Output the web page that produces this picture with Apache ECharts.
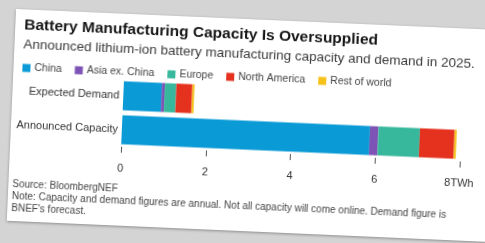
<!DOCTYPE html>
<html>
<head>
<meta charset="utf-8">
<script src="https://cdn.jsdelivr.net/npm/echarts@6/dist/echarts.min.js"></script>
<style>
  html, body { margin: 0; padding: 0; width: 485px; height: 243px; overflow: hidden; background: #d4d4d4; }
  #chart {
    position: absolute; left: 16px; top: 9px; width: 490px; height: 212px;
    background: #fff; transform: rotate(2.5deg); transform-origin: 0 0;
    box-shadow: 0 1px 3px rgba(0,0,0,0.35);
  }
</style>
</head>
<body>
<div id="chart"></div>
<script>
// values in TWh
var categories = ['Announced Capacity', 'Expected Demand']
var regions = ['China', 'Asia ex. China', 'Europe', 'North America', 'Rest of world']
var china = [5.85, 0.9]
var asiaExChina = [0.2, 0.07]
var europe = [0.98, 0.27]
var northAmerica = [0.82, 0.38]
var restOfWorld = [0.05, 0.05]
var xTicks = [0, 2, 4, 6, 8]

var colors = ['#0a9ad6', '#7d54b5', '#37b89c', '#e5321f', '#f6c21a']
var seriesData = [china, asiaExChina, europe, northAmerica, restOfWorld]

var myChart = echarts.init(document.getElementById('chart'))
myChart.setOption({
  animation: false,
  title: {
    left: 4,
    top: 3,
    text: 'Battery Manufacturing Capacity Is Oversupplied',
    subtext: 'Announced lithium-ion battery manufacturing capacity and demand in 2025.',
    itemGap: 4,
    textStyle: { fontSize: 15.5, fontWeight: 'bold', color: '#161616', fontFamily: 'Liberation Sans' },
    subtextStyle: { fontSize: 13.5, color: '#3a3a3a', fontFamily: 'Liberation Sans' }
  },
  legend: {
    left: 4,
    top: 48,
    itemWidth: 8,
    itemHeight: 8,
    itemGap: 13,
    icon: 'rect',
    selectedMode: false,
    data: regions,
    textStyle: { fontSize: 10.5, color: '#444', fontFamily: 'Liberation Sans', padding: [0, 0, 0, -1] }
  },
  grid: { left: 111, width: 339, top: 65, height: 68 },
  xAxis: {
    type: 'value',
    min: xTicks[0],
    max: xTicks[xTicks.length - 1],
    interval: 2,
    splitLine: { show: false },
    axisLine: { show: false },
    axisTick: { show: true, length: 6, lineStyle: { color: '#555' } },
    axisLabel: {
      margin: 16,
      fontSize: 11,
      color: '#333',
      fontFamily: 'Liberation Sans',
      formatter: function (v) { return v === 8 ? '8TWh' : String(v) }
    }
  },
  yAxis: {
    type: 'category',
    data: categories,
    axisLine: { show: false },
    axisTick: { show: false },
    axisLabel: { margin: 4, fontSize: 11, color: '#333', fontFamily: 'Liberation Sans' }
  },
  series: regions.map(function (name, i) {
    return {
      name: name,
      type: 'bar',
      stack: 'total',
      barWidth: 29,
      data: seriesData[i],
      itemStyle: { color: colors[i] }
    }
  }),
  graphic: [
    { type: 'text', left: 4, top: 170, style: { text: 'Source: BloombergNEF', fontSize: 10, fill: '#444', fontFamily: 'Liberation Sans' } },
    { type: 'text', left: 4, top: 182, style: { text: 'Note: Capacity and demand figures are annual. Not all capacity will come online. Demand figure is', fontSize: 10, fill: '#444', fontFamily: 'Liberation Sans' } },
    { type: 'text', left: 4, top: 194, style: { text: "BNEF's forecast.", fontSize: 10, fill: '#444', fontFamily: 'Liberation Sans' } }
  ]
})
</script>
</body>
</html>
